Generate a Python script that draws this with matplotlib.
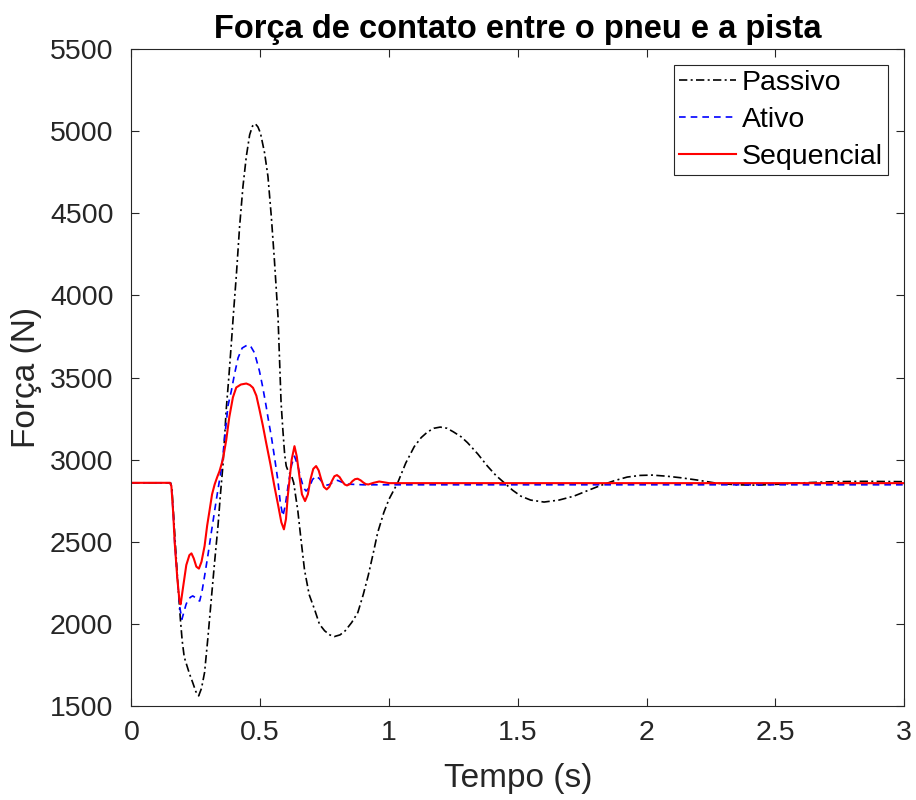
import numpy as np
import matplotlib.pyplot as plt

plt.rcParams['font.family'] = ['Liberation Sans', 'DejaVu Sans']

# DADOS (tempo em s, forca em N)
t_passivo = [0, 0.152, 0.157, 0.163, 0.17, 0.18, 0.19, 0.197, 0.205, 0.213,
             0.225, 0.239, 0.25, 0.261, 0.272, 0.284, 0.297, 0.31, 0.323,
             0.336, 0.345, 0.355, 0.368, 0.378, 0.388, 0.397, 0.407, 0.42,
             0.433, 0.446, 0.459, 0.47, 0.481, 0.491, 0.501, 0.517, 0.53,
             0.543, 0.555, 0.569, 0.581, 0.588, 0.595, 0.601, 0.61, 0.62,
             0.63, 0.646, 0.658, 0.672, 0.69, 0.711, 0.73, 0.75, 0.77, 0.788,
             0.81, 0.83, 0.855, 0.879, 0.9, 0.92, 0.94, 0.956, 0.98, 1.0,
             1.034, 1.065, 1.098, 1.125, 1.15, 1.175, 1.199, 1.225, 1.25,
             1.28, 1.305, 1.345, 1.382, 1.415, 1.447, 1.48, 1.512, 1.55,
             1.602, 1.66, 1.718, 1.77, 1.822, 1.875, 1.925, 1.975, 2.022,
             2.08, 2.132, 2.196, 2.274, 2.35, 2.429, 2.52, 2.623, 2.73,
             2.842, 3.0]
f_passivo = [2860, 2860, 2830, 2680, 2500, 2250, 2030, 1900, 1800, 1760,
             1700, 1640, 1590, 1564, 1610, 1707, 1920, 2152, 2380,
             2597, 2780, 2962, 3306, 3500, 3711, 3910, 4116, 4420,
             4663, 4845, 4977, 5030, 5044, 5025, 4987, 4866, 4724,
             4481, 4217, 3873, 3347, 3180, 3030, 2962, 2925, 2911,
             2860, 2690, 2520, 2330, 2180, 2090, 2000, 1960, 1935, 1925,
             1935, 1960, 2010, 2071, 2180, 2300, 2440, 2557, 2680, 2760,
             2861, 2980, 3080, 3135, 3170, 3192, 3199, 3192, 3170,
             3140, 3104, 3035, 2962, 2905, 2861, 2815, 2779, 2755,
             2743, 2755, 2779, 2812, 2844, 2873, 2895, 2905, 2907,
             2900, 2891, 2877, 2857, 2848, 2846, 2852, 2861, 2867,
             2869, 2867]

t_ativo = [0, 0.150, 0.155, 0.162, 0.168, 0.178, 0.188, 0.196, 0.203, 0.212,
           0.22, 0.23, 0.238, 0.25, 0.258, 0.265, 0.274, 0.284, 0.297, 0.31,
           0.323, 0.336, 0.351, 0.363, 0.375, 0.388, 0.4, 0.414, 0.43,
           0.452, 0.465, 0.478, 0.497, 0.51, 0.523, 0.533, 0.543, 0.556,
           0.568, 0.578, 0.588, 0.597, 0.61, 0.622, 0.633, 0.645, 0.659,
           0.668, 0.678, 0.69, 0.703, 0.717, 0.73, 0.743, 0.756, 0.77,
           0.785, 0.8, 0.82, 0.84, 0.87, 0.9, 3.0]
f_ativo = [2860, 2860, 2840, 2680, 2496, 2280, 2100, 2030, 2070, 2120,
           2150, 2165, 2172, 2160, 2145, 2141, 2200, 2293, 2420, 2557,
           2690, 2820, 2962, 3150, 3330, 3420, 3520, 3620, 3680,
           3700, 3685, 3650, 3540, 3440, 3326, 3230, 3144, 3010,
           2881, 2740, 2658, 2720, 2861, 2970, 3022, 2970, 2881,
           2830, 2810, 2830, 2880, 2901, 2885, 2860, 2845, 2850,
           2868, 2875, 2862, 2852, 2850, 2848, 2848]

t_seq = [0, 0.150, 0.155, 0.162, 0.168, 0.178, 0.186, 0.191, 0.2, 0.213,
         0.225, 0.233, 0.242, 0.252, 0.262, 0.272, 0.284, 0.294, 0.304,
         0.313, 0.323, 0.333, 0.342, 0.355, 0.368, 0.38, 0.394, 0.407,
         0.425, 0.446, 0.46, 0.472, 0.485, 0.497, 0.51, 0.523, 0.54, 0.555,
         0.57, 0.582, 0.592, 0.6, 0.607, 0.614, 0.622, 0.633, 0.642, 0.652,
         0.662, 0.674, 0.685, 0.695, 0.706, 0.717, 0.727, 0.737, 0.747,
         0.758, 0.768, 0.778, 0.788, 0.798, 0.808, 0.818, 0.828, 0.837,
         0.848, 0.858, 0.868, 0.878, 0.89, 0.9, 0.91, 0.92, 0.94, 0.962,
         0.985, 1.0, 3.0]
f_seq = [2860, 2860, 2840, 2680, 2496, 2280, 2150, 2121, 2220, 2360,
         2420, 2431, 2400, 2350, 2338, 2380, 2476, 2600, 2699,
         2790, 2850, 2895, 2931, 3002, 3120, 3260, 3380, 3440,
         3458, 3464, 3455, 3438, 3390, 3306, 3210, 3104, 2970, 2840,
         2720, 2620, 2577, 2640, 2780, 2881, 3000, 3083, 3020, 2901,
         2790, 2749, 2790, 2880, 2945, 2962, 2935, 2880, 2835,
         2820, 2835, 2870, 2900, 2907, 2895, 2870, 2850, 2844,
         2852, 2870, 2882, 2885, 2875, 2862, 2852, 2850, 2860, 2868,
         2862, 2858, 2858]

fig = plt.figure(figsize=(9.16, 8), dpi=100)
ax = fig.add_axes([0.1435, 0.117, 0.8435, 0.822])

ax.plot(t_passivo, f_passivo, color='k', lw=1.2, ls=(0, (5, 2, 1.2, 2)), label='Passivo')
ax.plot(t_ativo, f_ativo, color='#0000ff', lw=1.2, ls=(0, (4, 3)), label='Ativo')
ax.plot(t_seq, f_seq, color='#ff0000', lw=1.5, label='Sequencial')

ax.set_xlim(0, 3)
ax.set_ylim(1500, 5500)
ax.set_xticks(np.arange(0, 3.01, 0.5))
ax.set_xticklabels(['0', '0.5', '1', '1.5', '2', '2.5', '3'])
ax.set_yticks(np.arange(1500, 5501, 500))

for s in ax.spines.values():
    s.set_color('#262626')
    s.set_linewidth(0.8)
ax.tick_params(direction='in', length=6, width=0.8, colors='#262626',
               labelsize=20.5, top=True, right=True)
ax.tick_params(axis='y', pad=13)
ax.tick_params(axis='x', pad=10)

ax.set_xlabel('Tempo (s)', fontsize=24, color='#262626', labelpad=12)
ax.set_ylabel('Força (N)', fontsize=24, color='#262626', labelpad=6)
ax.set_title('Força de contato entre o pneu e a pista', fontsize=23.5,
             fontweight='bold', pad=8)

leg = ax.legend(loc='upper right', bbox_to_anchor=(888 / 916, 1 - 65 / 800),
                bbox_transform=fig.transFigure, borderaxespad=0, fontsize=20.5,
                handlelength=2.0, labelspacing=0.38, handletextpad=0.2,
                borderpad=0.18, fancybox=False, framealpha=1)
leg.get_frame().set_edgecolor('#262626')
leg.get_frame().set_linewidth(0.8)

fig.savefig('out.png', dpi=100)
